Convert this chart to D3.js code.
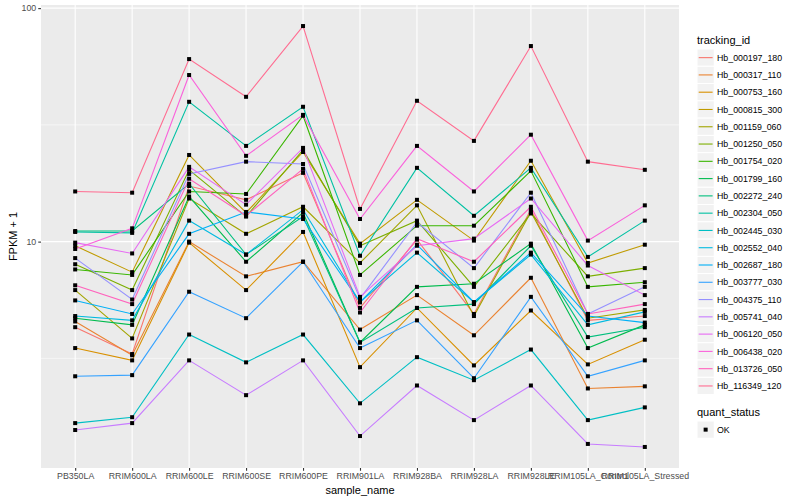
<html>
<head>
<style>
    body { margin:0; background:white; }
    text { font-family:"Liberation Sans", Arial, sans-serif; }
</style>
</head>
<body>
<svg id="plot"></svg>
<script src="https://cdn.jsdelivr.net/npm/d3@7"></script>
<script>

// samples along the x axis
var samples = ["PB350LA","RRIM600LA","RRIM600LE","RRIM600SE","RRIM600PE","RRIM901LA",
               "RRIM928BA","RRIM928LA","RRIM928LE","RRIM105LA_Control","RRIM105LA_Stressed"];

// one line per tracking id
var trackingIds = ["Hb_000197_180","Hb_000317_110","Hb_000753_160","Hb_000815_300","Hb_001159_060",
                   "Hb_001250_050","Hb_001754_020","Hb_001799_160","Hb_002272_240","Hb_002304_050",
                   "Hb_002445_030","Hb_002552_040","Hb_002687_180","Hb_003777_030","Hb_004375_110",
                   "Hb_005741_040","Hb_006120_050","Hb_006438_020","Hb_013726_050","Hb_116349_120"];

// FPKM + 1, one row per tracking id, one value per sample
var fpkm = [
    [4.3, 3.3, 17.3, 15.1, 19.7, 5.2, 10.2, 4.9, 13.7, 4.6, 4.8],
    [4.55, 3.26, 10.0, 7.1, 8.2, 4.2, 5.9, 3.97, 7.0, 2.35, 2.4],
    [3.5, 3.1, 9.9, 6.2, 11.0, 2.9, 5.2, 2.95, 5.07, 2.98, 3.8],
    [9.6, 7.4, 23.5, 13.3, 24.2, 9.8, 15.1, 10.1, 22.2, 8.1, 9.7],
    [6.2, 3.85, 15.3, 10.8, 14.1, 8.1, 14.3, 4.8, 13.4, 4.7, 5.1],
    [8.0, 6.2, 20.3, 12.8, 24.7, 9.6, 12.3, 6.4, 13.2, 7.1, 7.7],
    [7.6, 7.2, 16.4, 16.0, 34.6, 7.2, 11.7, 11.7, 20.1, 6.4, 6.7],
    [4.7, 4.4, 15.6, 8.2, 13.3, 3.7, 6.4, 6.6, 9.8, 3.5, 4.4],
    [11.1, 11.1, 17.7, 8.8, 12.8, 3.7, 5.2, 5.4, 9.6, 3.9, 4.3],
    [11.0, 10.9, 39.7, 25.7, 37.8, 8.7, 20.7, 12.9, 20.7, 8.6, 12.3],
    [1.67, 1.77, 4.0, 3.04, 4.0, 2.03, 3.2, 2.55, 3.45, 1.72, 1.95],
    [4.8, 4.6, 12.3, 8.8, 13.7, 5.5, 8.97, 5.5, 8.8, 4.4, 5.0],
    [5.6, 4.9, 10.8, 13.4, 12.5, 5.5, 9.7, 5.5, 8.97, 4.8, 4.5],
    [2.65, 2.68, 6.1, 4.7, 8.2, 3.5, 4.6, 2.6, 5.8, 2.65, 3.1],
    [8.5, 5.65, 19.5, 22.0, 21.5, 5.7, 12.1, 7.7, 16.2, 4.9, 6.4],
    [1.56, 1.67, 3.1, 2.2, 3.1, 1.47, 2.42, 1.72, 2.42, 1.36, 1.32],
    [9.9, 8.9, 20.9, 14.4, 25.2, 5.8, 9.6, 10.3, 15.3, 7.9, 5.9],
    [9.3, 11.4, 51.7, 23.3, 34.9, 12.5, 25.7, 16.4, 28.7, 10.1, 14.3],
    [6.5, 5.4, 18.6, 12.9, 20.5, 4.97, 10.3, 8.2, 14.1, 4.9, 5.4],
    [16.4, 16.2, 60.5, 41.7, 83.8, 13.8, 40.1, 27.0, 68.8, 22.0, 20.3]
];

// y axis breaks
var yTicks = [10, 100];
var yMinor = [Math.sqrt(10), Math.sqrt(1000)];

// default ggplot hue palette for 20 groups
var palette = ["#F8766D","#EA8331","#D89000","#C09B00","#A3A500","#7CAE00","#39B600","#00BB4E",
               "#00BF7D","#00C1A3","#00BFC4","#00BAE0","#00B0F6","#35A2FF","#9590FF","#C77CFF",
               "#E76BF3","#FA62DB","#FF62BC","#FF6C91"];

var drawChart = function(target)
{
    var screen = {width:800, height:500};
    var panel = {left:41, right:679, top:5, bottom:468};

    var svg = d3.select(target)
        .attr("width",screen.width)
        .attr("height",screen.height);

    svg.append("rect")
        .attr("width",screen.width)
        .attr("height",screen.height)
        .attr("fill","white");

    var series = trackingIds.map(function(id,i)
    {
        return {id:id, color:palette[i], values:fpkm[i].map(function(v,j)
        {
            return {sample:samples[j], value:v};
        })};
    });

    //log scale with ggplot's 5% expansion
    var all = d3.merge(fpkm);
    var lo = Math.log10(d3.min(all)), hi = Math.log10(d3.max(all));
    var pad = (hi-lo)*0.05;

    var xScale = d3.scalePoint()
        .domain(samples)
        .range([panel.left,panel.right])
        .padding(0.6);

    var yScale = d3.scaleLog()
        .domain([Math.pow(10,lo-pad),Math.pow(10,hi+pad)])
        .range([panel.bottom,panel.top]);

    //panel background and grid
    svg.append("rect")
        .attr("x",panel.left)
        .attr("y",panel.top)
        .attr("width",panel.right-panel.left)
        .attr("height",panel.bottom-panel.top)
        .attr("fill","#EBEBEB");

    var grid = svg.append("g");
    grid.selectAll(".minor")
        .data(yMinor)
        .enter()
        .append("line")
        .attr("x1",panel.left).attr("x2",panel.right)
        .attr("y1",function(d){return yScale(d);})
        .attr("y2",function(d){return yScale(d);})
        .attr("stroke","white")
        .attr("stroke-width",0.55);

    grid.selectAll(".majorY")
        .data(yTicks)
        .enter()
        .append("line")
        .attr("x1",panel.left).attr("x2",panel.right)
        .attr("y1",function(d){return yScale(d);})
        .attr("y2",function(d){return yScale(d);})
        .attr("stroke","white")
        .attr("stroke-width",1.1);

    grid.selectAll(".majorX")
        .data(samples)
        .enter()
        .append("line")
        .attr("y1",panel.top).attr("y2",panel.bottom)
        .attr("x1",function(d){return xScale(d);})
        .attr("x2",function(d){return xScale(d);})
        .attr("stroke","white")
        .attr("stroke-width",1.1);

    //lines
    var line = d3.line()
        .x(function(d){return xScale(d.sample);})
        .y(function(d){return yScale(d.value);});

    svg.append("g")
        .selectAll("path")
        .data(series)
        .enter()
        .append("path")
        .attr("d",function(s){return line(s.values);})
        .attr("fill","none")
        .attr("stroke",function(s){return s.color;})
        .attr("stroke-width",1.1);

    //points
    var points = [];
    series.forEach(function(s){ points = points.concat(s.values); });

    svg.append("g")
        .selectAll("rect")
        .data(points)
        .enter()
        .append("rect")
        .attr("x",function(d){return xScale(d.sample)-2;})
        .attr("y",function(d){return yScale(d.value)-2;})
        .attr("width",4)
        .attr("height",4)
        .attr("fill","black");

    //axes
    var yAxis = d3.axisLeft(yScale)
        .tickValues(yTicks)
        .tickFormat(d3.format("d"))
        .tickSizeInner(2.75)
        .tickSizeOuter(0)
        .tickPadding(2);

    var xAxis = d3.axisBottom(xScale)
        .tickSizeInner(2.75)
        .tickSizeOuter(0)
        .tickPadding(2);

    var ya = svg.append("g")
        .attr("transform","translate("+panel.left+",0)")
        .call(yAxis);
    var xa = svg.append("g")
        .attr("transform","translate(0,"+panel.bottom+")")
        .call(xAxis);

    [ya,xa].forEach(function(a)
    {
        a.select(".domain").remove();
        a.selectAll("line").attr("stroke","#333333").attr("stroke-width",1.1);
        a.selectAll("text")
            .attr("fill","#4D4D4D")
            .style("font-size","8.8px")
            .style("font-family","'Liberation Sans', Arial, sans-serif");
    });

    //axis titles
    svg.append("text")
        .text("sample_name")
        .attr("x",(panel.left+panel.right)/2)
        .attr("y",494)
        .attr("text-anchor","middle")
        .style("font-size","11px");

    svg.append("g")
        .attr("transform","translate(17,"+((panel.top+panel.bottom)/2)+")")
        .append("text")
        .text("FPKM + 1")
        .attr("text-anchor","middle")
        .attr("transform","rotate(-90)")
        .style("font-size","11px");

    //legend for tracking_id
    var legend = svg.append("g").attr("transform","translate(697,0)");
    legend.append("text")
        .text("tracking_id")
        .attr("x",0)
        .attr("y",44)
        .style("font-size","11px");

    var keys = legend.selectAll(".key")
        .data(series)
        .enter()
        .append("g")
        .attr("transform",function(s,i){return "translate(0,"+(49+i*17.28)+")";});

    keys.append("rect")
        .attr("width",17.28).attr("height",17.28)
        .attr("fill","#F2F2F2")
        .attr("stroke","white");
    keys.append("line")
        .attr("x1",1.7).attr("x2",15.6)
        .attr("y1",8.64).attr("y2",8.64)
        .attr("stroke",function(s){return s.color;})
        .attr("stroke-width",1.1);
    keys.append("text")
        .text(function(s){return s.id;})
        .attr("x",20)
        .attr("y",11.8)
        .style("font-size","8.8px");

    //legend for quant_status
    legend.append("text")
        .text("quant_status")
        .attr("x",0)
        .attr("y",416)
        .style("font-size","11px");
    var ok = legend.append("g").attr("transform","translate(0,421)");
    ok.append("rect")
        .attr("width",17.28).attr("height",17.28)
        .attr("fill","#F2F2F2")
        .attr("stroke","white");
    ok.append("rect")
        .attr("x",6.64).attr("y",6.64)
        .attr("width",4).attr("height",4)
        .attr("fill","black");
    ok.append("text")
        .text("OK")
        .attr("x",20)
        .attr("y",11.8)
        .style("font-size","8.8px");
}

drawChart("#plot");

</script>
</body>
</html>
